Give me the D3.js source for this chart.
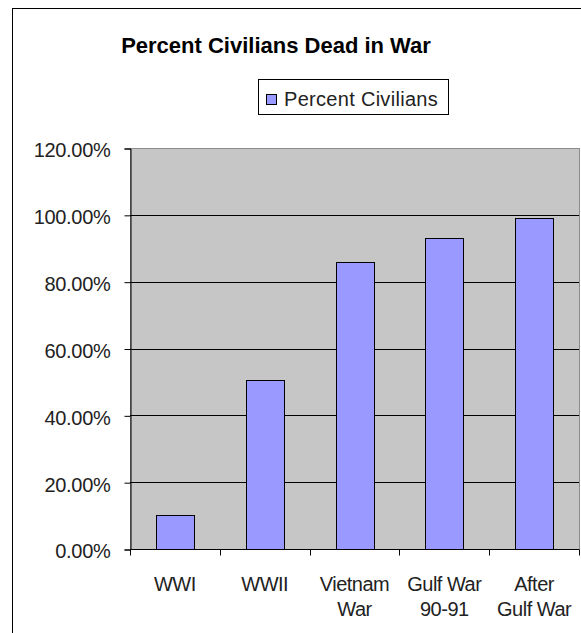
<!DOCTYPE html>
<html><head><meta charset="utf-8">
<script src="https://cdn.jsdelivr.net/npm/d3@7"></script>
<style>body{margin:0;background:#fff}svg{display:block}</style>
</head><body>
<script>
const categories = [["WWI"], ["WWII"], ["Vietnam", "War"], ["Gulf War", "90-91"], ["After", "Gulf War"]];
const values = [10.2, 50.6, 85.9, 93.0, 99.0];
const yTicks = [0, 20, 40, 60, 80, 100, 120];
const title = "Percent Civilians Dead in War";
const seriesName = "Percent Civilians";

const W = 581, H = 633;
const svg = d3.select("body").append("svg").attr("width", W).attr("height", H);
const font = "Arial, 'Liberation Sans', sans-serif";

// outer frame
svg.append("rect").attr("x", 12.5).attr("y", 8.5).attr("width", 620).attr("height", 640)
  .attr("fill", "#fff").attr("stroke", "#000").attr("stroke-width", 1);

const plot = {l: 130, t: 148, r: 579, b: 549};
const x = d3.scaleBand().domain(d3.range(categories.length)).range([plot.l, plot.r]).paddingInner(0.58).paddingOuter(0.29);
const xb = d3.scaleBand().domain(d3.range(categories.length)).range([plot.l, plot.r]);
const y = d3.scaleLinear().domain([0, 120]).range([plot.b, plot.t]);

svg.append("rect").attr("x", plot.l + 0.5).attr("y", plot.t + 0.5).attr("width", plot.r - plot.l).attr("height", plot.b - plot.t)
  .attr("fill", "#C6C6C6").attr("stroke", "#8c8c8c").attr("stroke-width", 1);

// gridlines
svg.append("g").selectAll("line").data(yTicks.filter(d => d > 0 && d < 120)).join("line")
  .attr("x1", plot.l).attr("x2", plot.r).attr("y1", d => Math.round(y(d)) + 0.5).attr("y2", d => Math.round(y(d)) + 0.5)
  .attr("stroke", "#000").attr("stroke-width", 1);

// bars
svg.append("g").selectAll("rect").data(values).join("rect")
  .attr("x", (d, i) => Math.round(x(i)) + 0.5).attr("y", d => Math.round(y(d)) + 0.5)
  .attr("width", Math.round(x.bandwidth())).attr("height", d => Math.round(y(0)) - Math.round(y(d)))
  .attr("fill", "#9999FF").attr("stroke", "#000").attr("stroke-width", 1);

// y axis
const yAxis = d3.axisLeft(y).tickValues(yTicks).tickSize(6).tickPadding(14)
  .tickFormat(d => d.toFixed(2) + "%");
const gy = svg.append("g").attr("transform", `translate(${plot.l + 0.5},0.5)`).call(yAxis);
gy.select(".domain").attr("stroke", "#000");
gy.selectAll(".tick line").attr("stroke", "#000");
gy.selectAll(".tick text").attr("font-family", font).attr("font-size", 20).attr("fill", "#222")
  .attr("letter-spacing", "-0.3").attr("dy", "0.42em");

// x axis
const gx = svg.append("g").attr("transform", `translate(0,${plot.b + 0.5})`);
gx.append("line").attr("x1", plot.l).attr("x2", plot.r).attr("stroke", "#000");
gx.selectAll("line.tk").data(d3.range(categories.length + 1)).join("line").attr("class", "tk")
  .attr("x1", i => Math.round(i < categories.length ? xb(i) : plot.r) + 0.5)
  .attr("x2", i => Math.round(i < categories.length ? xb(i) : plot.r) + 0.5)
  .attr("y1", 0).attr("y2", 6).attr("stroke", "#000");
const lbl = gx.selectAll("text").data(categories).join("text")
  .attr("text-anchor", "middle").attr("font-family", font).attr("font-size", 20).attr("fill", "#222")
  .attr("letter-spacing", "-0.5");
lbl.each(function (d, i) {
  const t = d3.select(this);
  d.forEach((s, k) => t.append("tspan").attr("x", xb(i) + xb.bandwidth() / 2).attr("y", 41 + k * 25).text(s));
});

// title
svg.append("text").attr("x", 276).attr("y", 53).attr("text-anchor", "middle")
  .attr("font-family", font).attr("font-weight", "bold").attr("font-size", 22).attr("fill", "#000").text(title);

// legend
const lg = svg.append("g");
lg.append("rect").attr("x", 258.5).attr("y", 79.5).attr("width", 190).attr("height", 35)
  .attr("fill", "#fff").attr("stroke", "#000");
lg.append("rect").attr("x", 266.5).attr("y", 94.5).attr("width", 10).attr("height", 10)
  .attr("fill", "#9999FF").attr("stroke", "#000");
lg.append("text").attr("x", 284).attr("y", 106).attr("font-family", font).attr("font-size", 20)
  .attr("letter-spacing", "0.3").attr("fill", "#222").text(seriesName);
</script>
</body></html>
